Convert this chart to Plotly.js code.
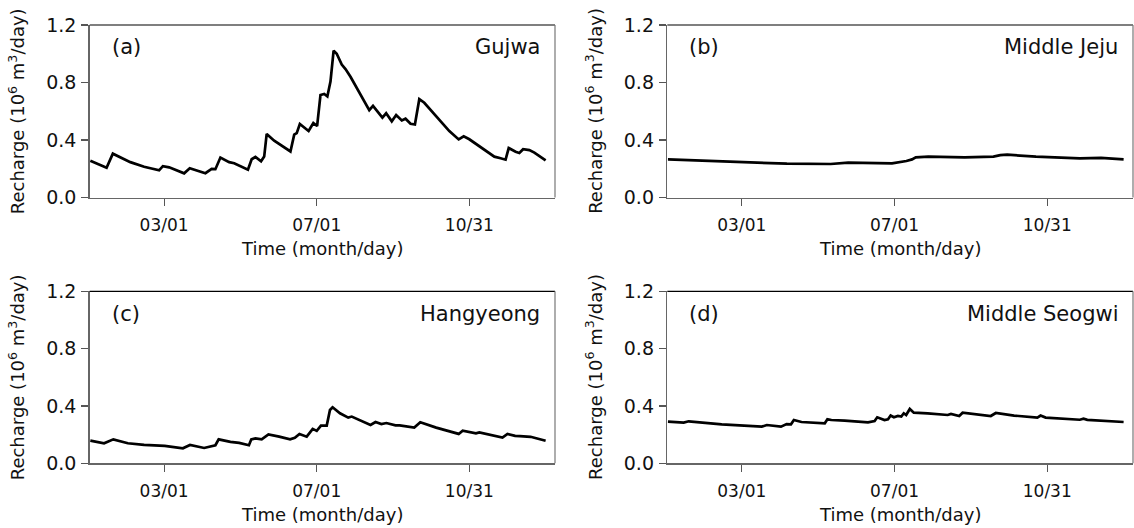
<!DOCTYPE html>
<html>
<head>
<meta charset="utf-8">
<script src="https://cdn.plot.ly/plotly-3.0.1.min.js"></script>
<style>
  html, body { margin: 0; padding: 0; background: #fff; }
  #chart { width: 1134px; height: 528px; }
</style>
</head>
<body>
<div id="chart"></div>
<script>
// Day of year for the x axis and its month/day tick labels
const tickDays = [60, 182, 304];
const tickLabels = ['03/01', '07/01', '10/31'];
const yTicks = [0, 0.4, 0.8, 1.2];
const yTickLabels = ['0.0', '0.4', '0.8', '1.2'];

// Panel titles
const panelTags = ['(a)', '(b)', '(c)', '(d)'];
const regionNames = ['Gujwa', 'Middle Jeju', 'Hangyeong', 'Middle Seogwi'];

// Daily recharge (10^6 m3/day), vertices of each hydrograph
const gujwaDay = [1,14,19,27,33,44,56,59,64,76,80.5,93,98,101,105,112,116,127,129,130,133,137.5,140,142,148,161,164,166,168.5,175.5,179.3,182.3,185,188,190.5,193,195.5,198,202,205,209,211.5,218,224,227,234.5,237.5,242,245.5,250,253,257,260.5,264,268,277,288,295.5,299.5,304,315,324,329,333,335.5,341,344,347,352,356,365];
const gujwaVal = [0.255,0.207,0.305,0.27,0.246,0.214,0.189,0.218,0.21,0.168,0.203,0.169,0.199,0.197,0.278,0.246,0.238,0.193,0.252,0.266,0.282,0.252,0.285,0.442,0.395,0.32,0.437,0.448,0.511,0.463,0.518,0.497,0.713,0.72,0.703,0.806,1.022,1.0,0.925,0.893,0.84,0.8,0.7,0.607,0.638,0.556,0.586,0.53,0.574,0.536,0.548,0.513,0.508,0.684,0.659,0.567,0.462,0.404,0.425,0.405,0.335,0.284,0.273,0.263,0.344,0.318,0.31,0.336,0.33,0.312,0.258];

const jejuDay = [1,27,59,96,131,145,180,184,191.5,196,199,209,238,261,266.5,272,295,330,347,365];
const jejuVal = [0.265,0.258,0.247,0.235,0.233,0.242,0.238,0.242,0.254,0.265,0.279,0.284,0.279,0.284,0.295,0.298,0.284,0.272,0.275,0.265];

const hangDay = [1,12,19.4,31,44,60.5,75,80.7,92,98,101,103.6,113,120,127.8,129.7,133,138,143.4,152,160.7,164.5,168.2,174,178.8,182,185.4,190,192.6,194.7,200.6,207.2,210,225,229,233.7,237.7,245,248.3,260,264.8,277.5,295.5,298.7,309.3,312,330.5,334.5,340.6,344.4,353,365];
const hangVal = [0.158,0.14,0.167,0.14,0.128,0.121,0.105,0.128,0.107,0.123,0.126,0.167,0.149,0.142,0.126,0.167,0.174,0.167,0.202,0.186,0.167,0.178,0.205,0.186,0.24,0.226,0.263,0.263,0.372,0.391,0.349,0.319,0.326,0.267,0.288,0.274,0.281,0.265,0.265,0.249,0.286,0.249,0.205,0.228,0.209,0.216,0.179,0.205,0.191,0.189,0.185,0.157];

const seogwiDay = [1,13.6,17.6,44,76,80,91.3,95.8,99.3,101.6,107.7,126.3,128.4,131.6,142.2,160.8,166.1,168.2,174,176.8,178.9,181.5,184.7,187.4,189.4,191.3,194.2,197.4,208.5,224.5,227.1,233.7,236.4,258.9,262.9,277.5,296.1,298.7,302.7,330,333,336,365];
const seogwiVal = [0.291,0.284,0.293,0.272,0.256,0.267,0.256,0.274,0.272,0.302,0.288,0.279,0.307,0.302,0.298,0.286,0.295,0.321,0.302,0.307,0.333,0.321,0.33,0.326,0.349,0.337,0.379,0.353,0.349,0.337,0.344,0.33,0.353,0.33,0.351,0.333,0.319,0.333,0.319,0.304,0.311,0.303,0.288];

const seriesDays = [gujwaDay, jejuDay, hangDay, seogwiDay];
const seriesVals = [gujwaVal, jejuVal, hangVal, seogwiVal];

const W = 1134, H = 528;
const FONT = 'DejaVu Sans, Verdana, sans-serif';

// Plot boxes in pixels: [left, right, top, bottom]
const boxes = [
  [89.7, 555, 25, 197.5],
  [667.3, 1133, 25, 197.5],
  [89.7, 555, 291.3, 463.3],
  [667.3, 1133, 291.3, 463.3]
];

const traces = [];
const layout = {
  width: W, height: H,
  margin: {l: 0, r: 0, t: 0, b: 0},
  paper_bgcolor: '#fff', plot_bgcolor: '#fff',
  showlegend: false,
  annotations: [], shapes: []
};

boxes.forEach((b, i) => {
  const n = i === 0 ? '' : String(i + 1);
  const xa = 'xaxis' + n, ya = 'yaxis' + n;
  const xr = 'x' + n, yr = 'y' + n;
  traces.push({
    x: seriesDays[i], y: seriesVals[i],
    xaxis: xr, yaxis: yr,
    type: 'scatter', mode: 'lines',
    line: {color: '#000', width: 2.7},
    hoverinfo: 'skip'
  });
  layout[xa] = {
    domain: [b[0] / W, b[1] / W],
    anchor: yr,
    range: [0.5, 372.5],
    tickmode: 'array', tickvals: tickDays, ticktext: tickLabels,
    ticks: 'outside', ticklen: 7, tickwidth: 1.2, tickcolor: '#555',
    ticklabelstandoff: 5,
    showline: true, linecolor: '#666', linewidth: 1.5,
    showgrid: false, zeroline: false, fixedrange: true,
    tickfont: {family: FONT, size: 17, color: '#111'}
  };
  layout[ya] = {
    domain: [1 - b[3] / H, 1 - b[2] / H],
    anchor: xr,
    range: [0, 1.2],
    tickmode: 'array', tickvals: yTicks, ticktext: yTickLabels,
    ticks: 'outside', ticklen: 7, tickwidth: 1.2, tickcolor: '#555',
    ticklabelstandoff: 1,
    showline: true, linecolor: '#666', linewidth: 1.5,
    showgrid: false, zeroline: false, fixedrange: true,
    tickfont: {family: FONT, size: 19, color: '#111'}
  };
  // top and right frame edges
  layout.shapes.push({type: 'line', xref: xr + ' domain', yref: yr + ' domain',
    x0: 0, x1: 1, y0: 1, y1: 1, line: {color: '#000', width: 1.2}});
  layout.shapes.push({type: 'line', xref: xr + ' domain', yref: yr + ' domain',
    x0: 1, x1: 1, y0: 0, y1: 1, line: {color: '#777', width: 1.2}});
  // panel tag and region name
  layout.annotations.push({xref: xr + ' domain', yref: yr + ' domain',
    x: 0.043, y: 0.87, xanchor: 'left', yanchor: 'middle', showarrow: false,
    text: panelTags[i], font: {family: FONT, size: 21, color: '#111'}});
  layout.annotations.push({xref: xr + ' domain', yref: yr + ' domain',
    x: 0.973, y: 0.87, xanchor: 'right', yanchor: 'middle', showarrow: false,
    text: regionNames[i], font: {family: FONT, size: 21, color: '#111'}});
  // axis titles
  layout.annotations.push({xref: 'paper', yref: 'paper',
    x: (b[0] - 72.7) / W, y: 1 - ((b[2] + b[3]) / 2) / H,
    xanchor: 'center', yanchor: 'middle', textangle: -90, showarrow: false,
    text: 'Recharge (10<sup>6</sup> m<sup>3</sup>/day)',
    font: {family: FONT, size: 18, color: '#111'}});
  layout.annotations.push({xref: 'paper', yref: 'paper',
    x: ((b[0] + b[1]) / 2) / W, y: 1 - (b[3] + 51) / H,
    xanchor: 'center', yanchor: 'middle', showarrow: false,
    text: 'Time (month/day)',
    font: {family: FONT, size: 18, color: '#111'}});
});

Plotly.newPlot('chart', traces, layout, {displayModeBar: false, staticPlot: true});
</script>
</body>
</html>
